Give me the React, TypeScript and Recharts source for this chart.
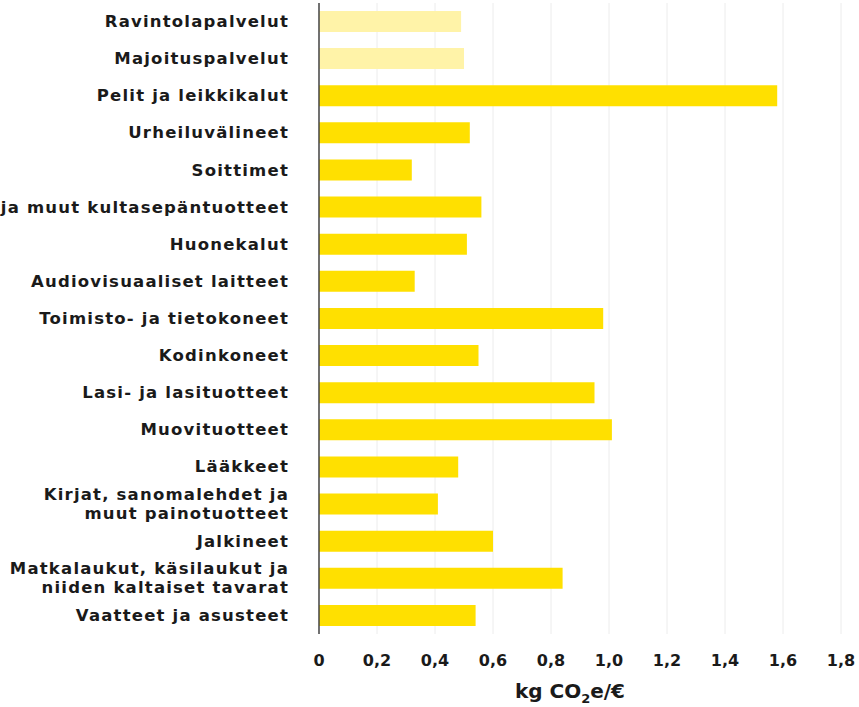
import React from 'react';
import { BarChart, Bar, XAxis, YAxis, CartesianGrid, Cell, Label } from 'recharts';

const categories = [
  'Ravintolapalvelut',
  'Majoituspalvelut',
  'Pelit ja leikkikalut',
  'Urheiluvälineet',
  'Soittimet',
  'Korut ja muut kultasepäntuotteet',
  'Huonekalut',
  'Audiovisuaaliset laitteet',
  'Toimisto- ja tietokoneet',
  'Kodinkoneet',
  'Lasi- ja lasituotteet',
  'Muovituotteet',
  'Lääkkeet',
  'Kirjat, sanomalehdet ja\nmuut painotuotteet',
  'Jalkineet',
  'Matkalaukut, käsilaukut ja\nniiden kaltaiset tavarat',
  'Vaatteet ja asusteet',
];

const values = [0.49, 0.5, 1.58, 0.52, 0.32, 0.56, 0.51, 0.33, 0.98, 0.55, 0.95, 1.01, 0.48, 0.41, 0.6, 0.84, 0.54];

const groups = ['palvelu', 'palvelu', 'tuote', 'tuote', 'tuote', 'tuote', 'tuote', 'tuote', 'tuote', 'tuote', 'tuote', 'tuote', 'tuote', 'tuote', 'tuote', 'tuote', 'tuote'];

const xTicks = [0, 0.2, 0.4, 0.6, 0.8, 1.0, 1.2, 1.4, 1.6, 1.8];

const groupColors: Record<string, string> = { palvelu: '#FFF3A8', tuote: '#FFE000' };

const data = categories.map((name, i) => ({ name, value: values[i], group: groups[i] }));

const FONT = '"DejaVu Sans", Inter, sans-serif';

const YTick = (props: any) => {
  const { x, y, payload } = props;
  const lines = String(payload.value).split('\n');
  const lh = 19;
  const startDy = -((lines.length - 1) * lh) / 2;
  return (
    <text x={x - 22} y={y} textAnchor="end" fontFamily={FONT} fontWeight={700} fontSize={16.5} fill="#1a1a1a" letterSpacing={1.2}>
      {lines.map((l, i) => (
        <tspan key={i} x={x - 22} dy={i === 0 ? startDy : lh} dominantBaseline="central">
          {l}
        </tspan>
      ))}
    </text>
  );
};

const fmt = (v: number) => (v === 0 ? '0' : v.toFixed(1).replace('.', ','));

const Title = (props: any) => {
  const { viewBox } = props;
  const cx = viewBox.x + viewBox.width / 2 - 10;
  const y = viewBox.y + viewBox.height + 34;
  return (
    <text x={cx} y={y} textAnchor="middle" fontFamily={FONT} fontWeight={800} fontSize={20} fill="#1a1a1a">
      kg CO<tspan fontSize={13} dy={5}>2</tspan>
      <tspan dy={-5}>e/€</tspan>
    </text>
  );
};

export default function App() {
  return (
    <div style={{ position: 'absolute', left: 0, top: 0, width: 859, height: 707, background: '#fff' }}>
      <BarChart
        width={859}
        height={707}
        data={data}
        layout="vertical"
        margin={{ top: 3, right: 18, bottom: 43, left: 0 }}
        style={{ overflow: 'visible' }}
      >
        <CartesianGrid horizontal={false} vertical stroke="#ececec" />
        <XAxis
          type="number"
          domain={[0, 1.8]}
          ticks={xTicks}
          tickFormatter={fmt}
          axisLine={false}
          tickLine={false}
          tick={{ fontFamily: FONT, fontWeight: 700, fontSize: 16, fill: '#1a1a1a' }}
          tickMargin={15}
        >
          <Label content={Title} />
        </XAxis>
        <YAxis
          type="category"
          dataKey="name"
          width={319}
          axisLine={{ stroke: '#444', strokeWidth: 1.5 }}
          tickLine={false}
          tick={<YTick />}
          interval={0}
        />
        <Bar dataKey="value" barSize={21} isAnimationActive={false}>
          {data.map((d, i) => (
            <Cell key={i} fill={groupColors[d.group]} />
          ))}
        </Bar>
      </BarChart>
    </div>
  );
}
